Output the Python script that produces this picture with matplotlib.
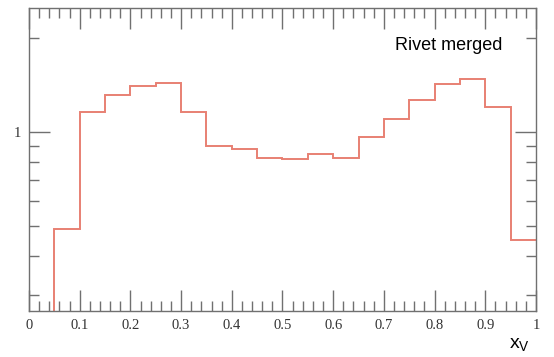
"""
Rivet merged x_V distribution, redrawn with matplotlib.
"""

import numpy as np
import matplotlib
matplotlib.use('Agg')
import matplotlib.pyplot as plt
from matplotlib.ticker import MultipleLocator, FixedLocator, NullFormatter

# bin edges and content
bin_edges = [0.0, 0.05, 0.1, 0.15, 0.2, 0.25, 0.3, 0.35, 0.4, 0.45, 0.5,
             0.55, 0.6, 0.65, 0.7, 0.75, 0.8, 0.85, 0.9, 0.95, 1.0]
bin_values = [0.0, 0.488, 1.162, 1.314, 1.401, 1.432, 1.156, 0.904, 0.884,
              0.823, 0.817, 0.848, 0.823, 0.962, 1.098, 1.269, 1.425, 1.475,
              1.205, 0.451]

x_tick_values = [0, 0.1, 0.2, 0.3, 0.4, 0.5, 0.6, 0.7, 0.8, 0.9, 1.0]
x_tick_labels = ['0', '0.1', '0.2', '0.3', '0.4', '0.5', '0.6', '0.7',
                 '0.8', '0.9', '1']
y_minor_values = [0.3, 0.4, 0.5, 0.6, 0.7, 0.8, 0.9, 2.0]


def main():
    fig = plt.figure(figsize=(5.54, 3.57), dpi=100)
    ax = fig.add_axes([0.0523, 0.1289, 0.9152, 0.8487])

    ax.set_yscale('log')
    ax.stairs(bin_values, bin_edges, color='#e46a5a', linewidth=1.4,
              alpha=0.85, baseline=None)

    ax.set_xlim(0, 1)
    ax.set_ylim(0.267, 2.5)

    # axes frame
    for spine in ax.spines.values():
        spine.set_color('#707070')
        spine.set_linewidth(1.0)

    # ticks
    ax.xaxis.set_major_locator(FixedLocator(x_tick_values))
    ax.set_xticklabels(x_tick_labels, fontfamily='Liberation Serif',
                       fontsize=10.5, color='#333333')
    ax.xaxis.set_minor_locator(MultipleLocator(0.02))
    ax.yaxis.set_major_locator(FixedLocator([1.0]))
    ax.set_yticklabels(['1'], fontfamily='Liberation Serif', fontsize=10.5,
                       color='#333333')
    ax.yaxis.set_minor_locator(FixedLocator(y_minor_values))
    ax.yaxis.set_minor_formatter(NullFormatter())

    ax.tick_params(which='both', direction='in', top=True, right=True,
                   color='#707070', width=1.0)
    ax.tick_params(which='major', length=15, pad=6)
    ax.tick_params(which='minor', length=7)

    # labels
    ax.text(0.933, 0.875, 'Rivet merged', transform=ax.transAxes,
            ha='right', va='center', fontfamily='Liberation Sans',
            fontsize=13, color='black')
    fig.text(0.937, 0.034, r'$\mathregular{x_V}$', ha='center',
             va='center', fontfamily='Liberation Sans', fontsize=14)

    fig.savefig('out.png', dpi=100)


if __name__ == '__main__':
    main()
